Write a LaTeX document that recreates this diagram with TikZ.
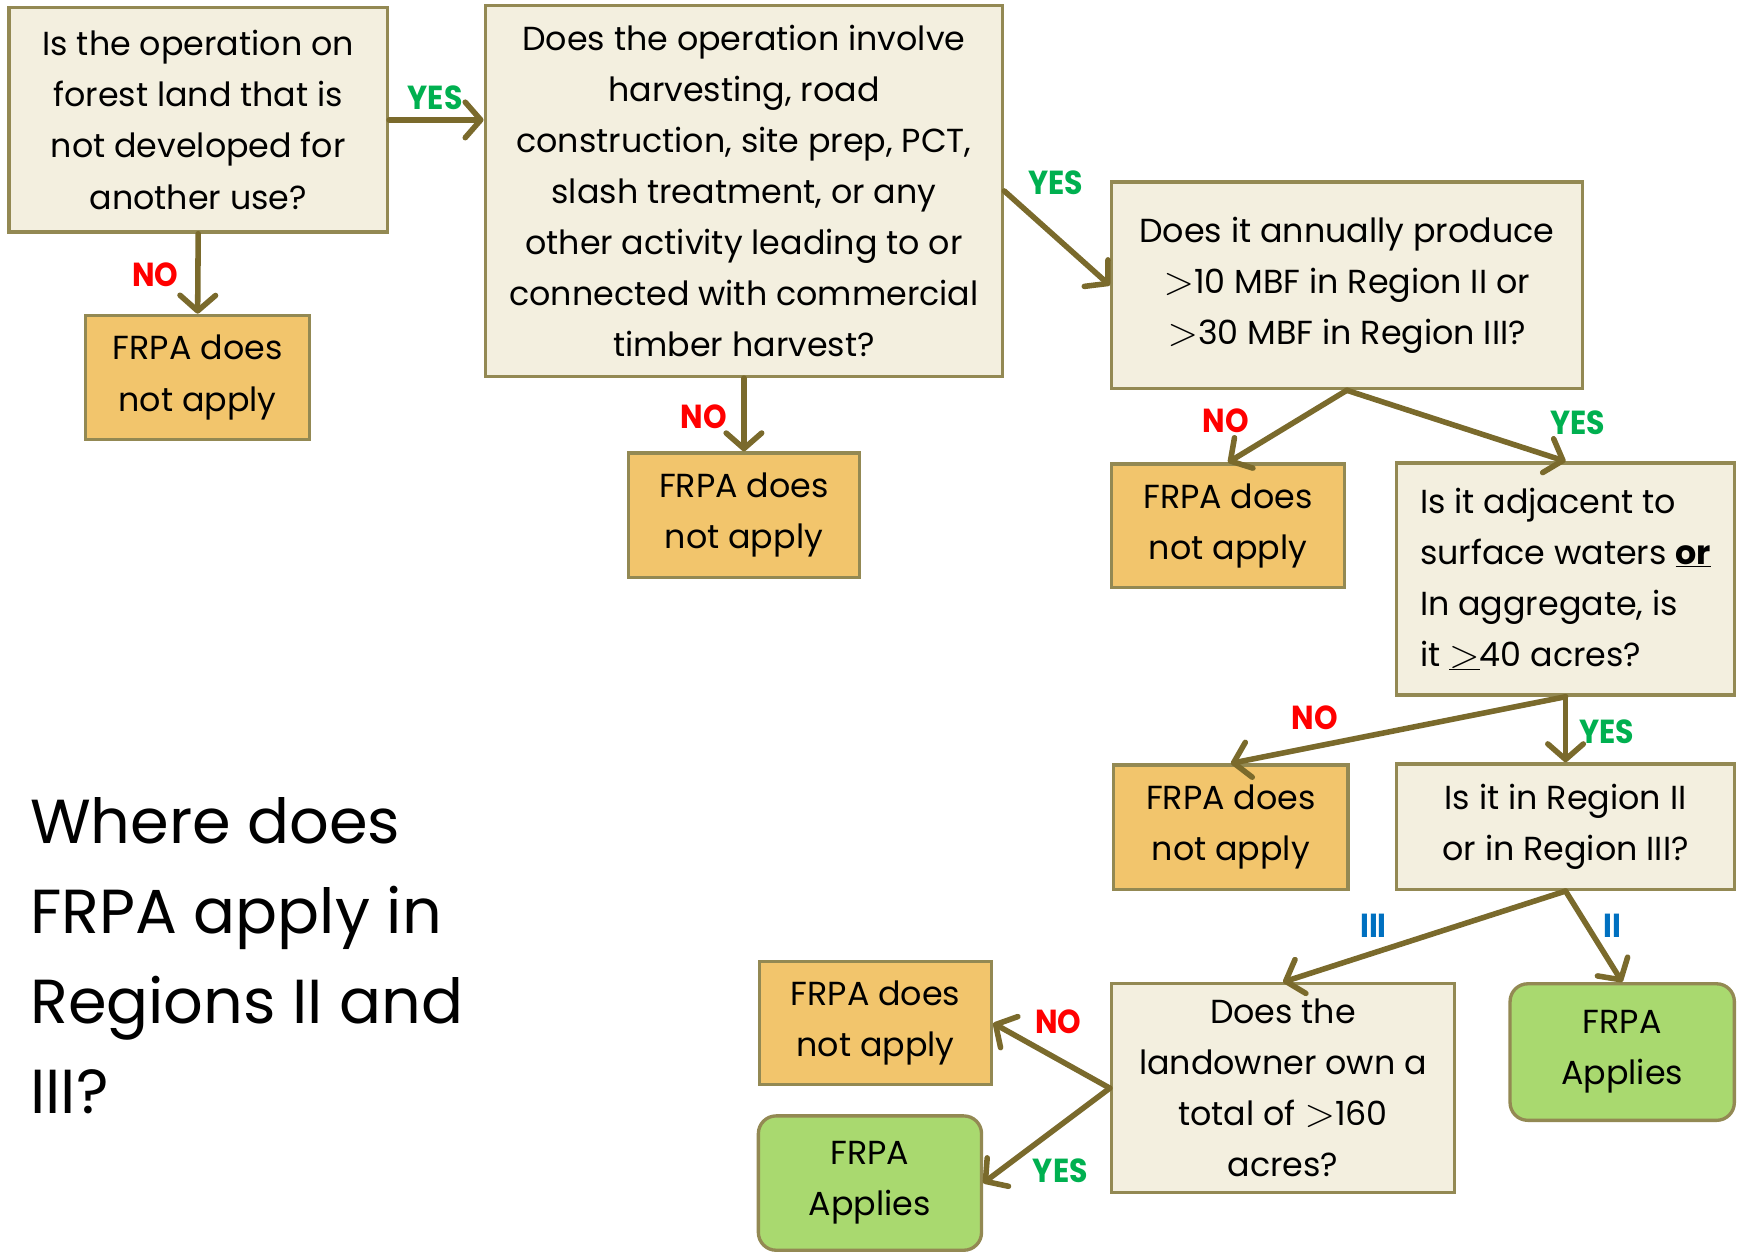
\documentclass[tikz,border=0pt]{standalone}
\usepackage{fontspec}
\setmainfont{Poppins}
\newfontfamily\lblfont[FakeStretch=0.9]{Poppins}
\usetikzlibrary{arrows.meta}
\definecolor{boxfill}{HTML}{F3EFDF}
\definecolor{boxline}{HTML}{938953}
\definecolor{arrowcol}{HTML}{7A6A2C}
\definecolor{nofill}{HTML}{F2C56C}
\definecolor{yesfill}{HTML}{A9D96F}
\definecolor{yesgreen}{HTML}{00B050}
\definecolor{nored}{HTML}{FF0000}
\definecolor{regblue}{HTML}{0070C0}
\newcommand\biggt{\raisebox{-0.02em}{\scalebox{1.45}{$>$}}}
\tikzset{
  qbox/.style={draw=boxline, line width=3pt, fill=boxfill, inner sep=0pt, align=center,
    font=\fontsize{30}{46}\selectfont},
  nobox/.style={qbox, fill=nofill},
  yesbox/.style={qbox, fill=yesfill, rounded corners=16pt},
  arr/.style={draw=arrowcol, line width=5pt, line cap=round,
    -{Straight Barb[length=14pt,width=32pt,round]}},
  lbl/.style={inner sep=0pt, font=\lblfont\bfseries\fontsize{30}{30}\selectfont},
  yeslbl/.style={lbl, text=yesgreen},
  nolbl/.style={lbl, text=nored},
  reglbl/.style={lbl, text=regblue}
}
\begin{document}
\begin{tikzpicture}[x=1pt,y=-1pt]
\useasboundingbox (0,0) rectangle (1568,1128);
% question boxes
\node[qbox, minimum width=341pt, minimum height=202pt] (b1) at (178.5,108)
  {Is the operation on\\forest land that is\\not developed for\\another use?};
\node[qbox, minimum width=466pt, minimum height=334pt] (b2) at (670,172)
  {Does the operation involve\\harvesting, road\\construction, site prep, PCT,\\slash treatment, or any\\other activity leading to or\\connected with commercial\\timber harvest?};
\node[qbox, minimum width=424pt, minimum height=186pt] (b3) at (1213,257)
  {Does it annually produce\\\biggt10 MBF in Region II or\\\biggt30 MBF in Region III?};
\node[qbox, align=left, minimum width=304pt, minimum height=209pt] (b4) at (1410,521.5)
  {Is it adjacent to\\surface waters \textbf{\underline{or}}\\In aggregate, is\\it \underline{\biggt}40 acres?};
\node[qbox, minimum width=304pt, minimum height=113pt] (b5) at (1410,744.5)
  {Is it in Region II\\or in Region III?};
\node[qbox, minimum width=309pt, minimum height=188pt] (b6) at (1155.5,980)
  {Does the\\landowner own a\\total of \biggt160\\acres?};
% outcome boxes
\node[nobox, minimum width=202pt, minimum height=112pt] (f1) at (178,340) {FRPA does\\not apply};
\node[nobox, minimum width=208pt, minimum height=112pt] (f2) at (670,464) {FRPA does\\not apply};
\node[nobox, minimum width=210pt, minimum height=111pt] (f3) at (1106,473.5) {FRPA does\\not apply};
\node[nobox, minimum width=211pt, minimum height=112pt] (f4) at (1108.5,745) {FRPA does\\not apply};
\node[nobox, minimum width=209pt, minimum height=111pt] (f5) at (788.5,921.5) {FRPA does\\not apply};
\node[yesbox, minimum width=202pt, minimum height=123pt] (a1) at (1461,947.5) {FRPA\\Applies};
\node[yesbox, minimum width=201pt, minimum height=121pt] (a2) at (783.5,1065.5) {FRPA\\Applies};
% title
\node[inner sep=0pt, anchor=north west, align=left, font=\fontsize{56}{81}\selectfont] (title) at (27,718)
  {Where does\\FRPA apply in\\Regions II and\\III?};
% connectors
\draw[arr] (b1.east) -- (b1.east -| b2.west);
\draw[arr] (b1.south) -- (f1.north);
\draw[arr] (b2.south) -- (f2.north);
\draw[arr] (b2.east) -- (b3.west);
\draw[arr] (b3.south) -- (f3.north);
\draw[arr] (b3.south) -- (b4.north);
\draw[arr] (b4.south) -- (f4.north);
\draw[arr] (b4.south) -- (b5.north);
\draw[arr] (b5.south) -- (b6.north);
\draw[arr] (b5.south) -- (a1.north);
\draw[arr] (b6.west) -- (f5.east);
\draw[arr] (b6.west) -- (a2.east);
% labels
\node[yeslbl] (l1) at (392,88) {YES};
\node[nolbl] (l2) at (140,247) {NO};
\node[nolbl] (l3) at (634,375) {NO};
\node[yeslbl] (l4) at (951,165) {YES};
\node[nolbl] (l5) at (1104,379) {NO};
\node[yeslbl] (l6) at (1421,381) {YES};
\node[nolbl] (l7) at (1184,646) {NO};
\node[yeslbl] (l8) at (1447,659) {YES};
\node[reglbl] (l9) at (1237,834) {III};
\node[reglbl] (l10) at (1452,834) {II};
\node[nolbl] (l11) at (953,920) {NO};
\node[yeslbl] (l12) at (955,1054) {YES};
\end{tikzpicture}
\end{document}
